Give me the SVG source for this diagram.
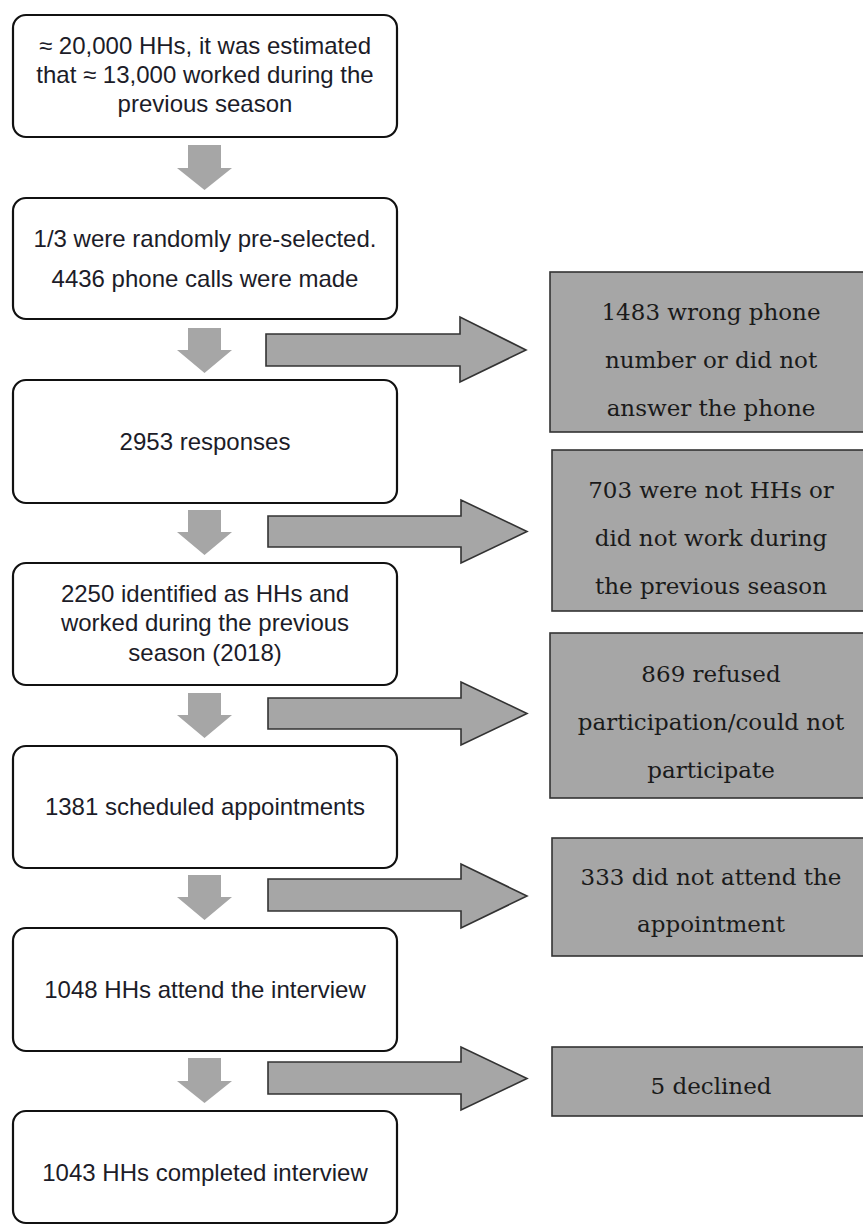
<svg xmlns="http://www.w3.org/2000/svg" width="863" height="1227" viewBox="0 0 863 1227">
<style>
.box{fill:#ffffff;stroke:#111111;stroke-width:2.2}
.gbox{fill:#a6a6a6;stroke:#333333;stroke-width:1.6}
.down{fill:#a6a6a6;stroke:none}
.right{fill:#a6a6a6;stroke:#333333;stroke-width:1.6;stroke-linejoin:miter}
.lt{font-family:"Liberation Sans",Arial,sans-serif;font-size:24px;fill:#1c1c28;text-anchor:middle}
.rt{font-family:"DejaVu Serif","Liberation Serif",serif;font-size:23px;fill:#1a1a1a;text-anchor:middle}
</style>
<rect width="863" height="1227" fill="#ffffff"/>
<g id="connectors">
<path class="down" d="M188 145H221V168H232L204.5 190L177 168H188Z"/>
<path class="down" d="M188 328H221V350H232L204.5 373L177 350H188Z"/>
<path class="down" d="M188 510H221V532H232L204.5 555L177 532H188Z"/>
<path class="down" d="M188 693H221V715H232L204.5 738L177 715H188Z"/>
<path class="down" d="M188 875H221V897H232L204.5 920L177 897H188Z"/>
<path class="down" d="M188 1058H221V1081H232L204.5 1103L177 1081H188Z"/>
<path class="right" d="M266 334H460V317L526 350L460 382V366H266Z"/>
<path class="right" d="M268 516H461V500L527 531.5L461 563V547H268Z"/>
<path class="right" d="M268 698H461V682L527 713.5L461 745V729H268Z"/>
<path class="right" d="M268 879H461V864L527 896L461 928V911H268Z"/>
<path class="right" d="M268 1062H461V1047L527 1078.5L461 1110V1094H268Z"/>
</g>
<g id="n1"><rect class="box" x="13" y="15" width="384" height="122" rx="13"/>
<text class="lt" x="205" y="54">≈ 20,000 HHs, it was estimated</text>
<text class="lt" x="205" y="83">that ≈ 13,000 worked during the</text>
<text class="lt" x="205" y="112">previous season</text></g>
<g id="n2"><rect class="box" x="13" y="198" width="384" height="121" rx="13"/>
<text class="lt" x="205" y="247">1/3 were randomly pre-selected.</text>
<text class="lt" x="205" y="287">4436 phone calls were made</text></g>
<g id="n3"><rect class="box" x="13" y="380" width="384" height="123" rx="13"/>
<text class="lt" x="205" y="450">2953 responses</text></g>
<g id="n4"><rect class="box" x="13" y="563" width="384" height="122" rx="13"/>
<text class="lt" x="205" y="602">2250 identified as HHs and</text>
<text class="lt" x="205" y="631">worked during the previous</text>
<text class="lt" x="205" y="661">season (2018)</text></g>
<g id="n5"><rect class="box" x="13" y="746" width="384" height="122" rx="13"/>
<text class="lt" x="205" y="815">1381 scheduled appointments</text></g>
<g id="n6"><rect class="box" x="13" y="928" width="384" height="123" rx="13"/>
<text class="lt" x="205" y="998">1048 HHs attend the interview</text></g>
<g id="n7"><rect class="box" x="13" y="1111" width="384" height="112" rx="13"/>
<text class="lt" x="205" y="1181">1043 HHs completed interview</text></g>
<g id="g1"><rect class="gbox" x="550" y="272" width="320" height="160"/>
<text class="rt" x="711" y="320">1483 wrong phone</text>
<text class="rt" x="711" y="368">number or did not</text>
<text class="rt" x="711" y="416">answer the phone</text></g>
<g id="g2"><rect class="gbox" x="552" y="450" width="320" height="161"/>
<text class="rt" x="711" y="498">703 were not HHs or</text>
<text class="rt" x="711" y="546">did not work during</text>
<text class="rt" x="711" y="594">the previous season</text></g>
<g id="g3"><rect class="gbox" x="550" y="633" width="320" height="165"/>
<text class="rt" x="711" y="682">869 refused</text>
<text class="rt" x="711" y="730">participation/could not</text>
<text class="rt" x="711" y="778">participate</text></g>
<g id="g4"><rect class="gbox" x="552" y="838" width="320" height="118"/>
<text class="rt" x="711" y="885">333 did not attend the</text>
<text class="rt" x="711" y="932">appointment</text></g>
<g id="g5"><rect class="gbox" x="552" y="1047" width="320" height="69"/>
<text class="rt" x="711" y="1094">5 declined</text></g>
</svg>
